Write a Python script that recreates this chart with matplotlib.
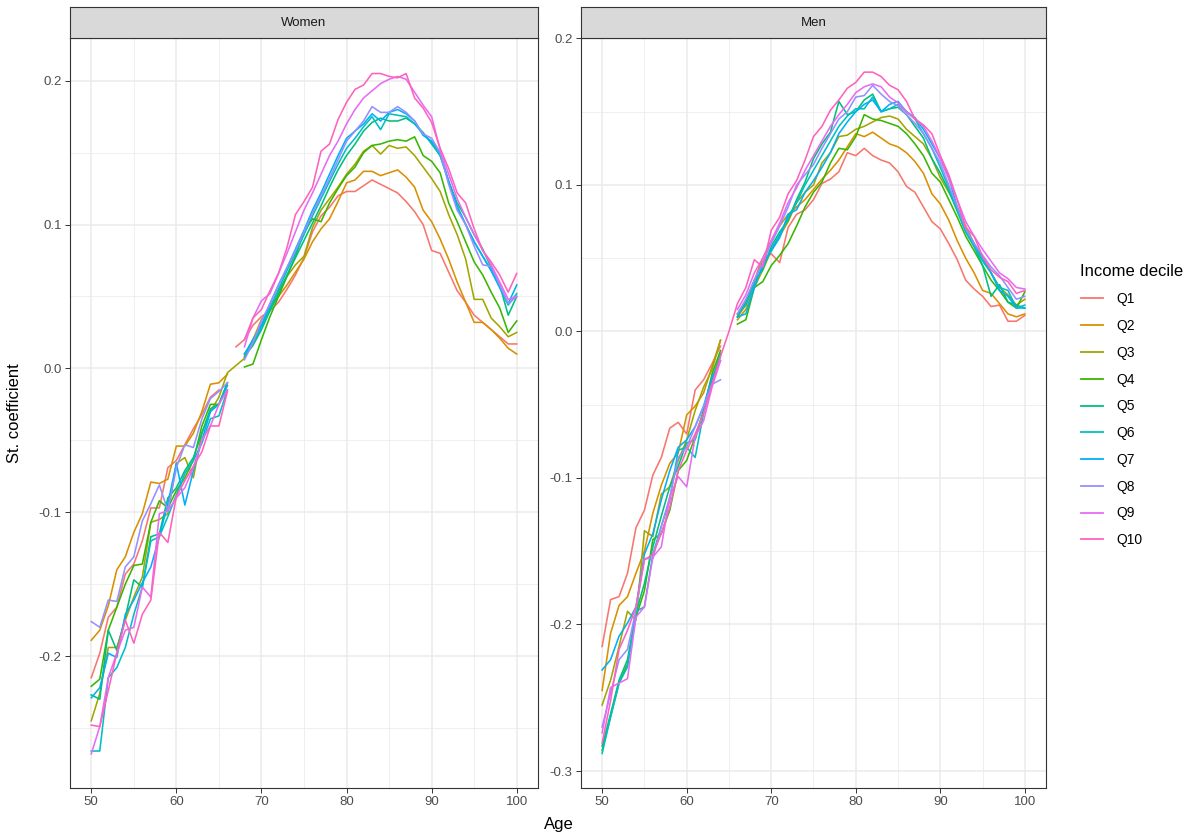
import numpy as np
import matplotlib
matplotlib.use("Agg")
import matplotlib.pyplot as plt
from matplotlib.lines import Line2D

plt.rcParams['font.family'] = ['Liberation Sans', 'DejaVu Sans']
plt.rcParams['axes.unicode_minus'] = False

nan = np.nan
ages = np.arange(50, 101)
deciles = ['Q1', 'Q2', 'Q3', 'Q4', 'Q5', 'Q6', 'Q7', 'Q8', 'Q9', 'Q10']
colors = ['#F8766D', '#D89000', '#A3A500', '#39B600', '#00BF7D',
          '#00BFC4', '#00B0F6', '#9590FF', '#E76BF3', '#FF62BC']

### Women, ages 50..100
w_q1 = [-0.215, -0.198, -0.173, -0.166, -0.143, -0.136, -0.120, -0.097, -0.097, -0.069,
        -0.064, -0.053, -0.042, -0.032, -0.020, -0.015, nan, 0.015, 0.020, 0.030,
        0.036, 0.040, 0.046, 0.055, 0.065, 0.077, 0.095, 0.106, 0.112, 0.120,
        0.123, 0.123, 0.127, 0.131, 0.128, 0.125, 0.122, 0.116, 0.109, 0.100,
        0.082, 0.080, 0.067, 0.054, 0.046, 0.037, 0.032, 0.027, 0.022, 0.017,
        0.017]
w_q2 = [-0.189, -0.182, -0.165, -0.140, -0.131, -0.114, -0.101, -0.079, -0.080, -0.077,
        -0.054, -0.054, -0.045, -0.030, -0.011, -0.010, -0.004, nan, 0.008, 0.020,
        0.034, 0.042, 0.050, 0.058, 0.067, 0.076, 0.088, 0.097, 0.104, 0.116,
        0.129, 0.131, 0.137, 0.137, 0.134, 0.136, 0.138, 0.133, 0.126, 0.110,
        0.102, 0.090, 0.076, 0.060, 0.046, 0.032, 0.032, 0.027, 0.021, 0.014,
        0.010]
w_q3 = [-0.245, -0.226, -0.194, -0.194, -0.175, -0.159, -0.145, -0.107, -0.105, -0.101,
        -0.066, -0.062, -0.076, -0.045, -0.030, -0.020, -0.003, 0.002, 0.007, 0.020,
        0.030, 0.042, 0.054, 0.064, 0.072, 0.078, 0.098, 0.110, 0.118, 0.126,
        0.135, 0.142, 0.151, 0.155, 0.149, 0.155, 0.153, 0.154, 0.148, 0.140,
        0.132, 0.123, 0.107, 0.093, 0.076, 0.048, 0.048, 0.035, 0.029, 0.022,
        0.025]
w_q4 = [-0.221, -0.216, -0.182, -0.166, -0.150, -0.137, -0.136, -0.107, -0.092, -0.097,
        -0.085, -0.076, -0.064, -0.040, -0.025, -0.025, -0.010, nan, 0.001, 0.003,
        0.020, 0.036, 0.050, 0.064, 0.078, 0.095, 0.104, 0.102, 0.115, 0.125,
        0.134, 0.140, 0.150, 0.155, 0.156, 0.158, 0.159, 0.158, 0.161, 0.148,
        0.144, 0.136, 0.115, 0.102, 0.088, 0.074, 0.065, 0.053, 0.042, 0.025,
        0.033]
w_q5 = [-0.227, -0.230, -0.182, -0.196, -0.173, -0.147, -0.152, -0.117, -0.115, -0.090,
        -0.083, -0.071, -0.062, -0.045, -0.028, -0.025, -0.010, nan, 0.008, 0.016,
        0.027, 0.040, 0.052, 0.065, 0.077, 0.089, 0.101, 0.113, 0.126, 0.138,
        0.148, 0.156, 0.165, 0.171, 0.174, 0.172, 0.172, 0.174, 0.170, 0.164,
        0.156, 0.148, 0.130, 0.115, 0.105, 0.093, 0.083, 0.070, 0.058, 0.037,
        0.050]
w_q6 = [-0.266, -0.266, -0.215, -0.208, -0.194, -0.171, -0.152, -0.120, -0.117, -0.103,
        -0.088, -0.073, -0.064, -0.052, -0.035, -0.033, -0.015, nan, 0.010, 0.018,
        0.028, 0.042, 0.055, 0.068, 0.080, 0.093, 0.106, 0.118, 0.130, 0.142,
        0.153, 0.160, 0.168, 0.175, 0.166, 0.177, 0.176, 0.175, 0.170, 0.163,
        0.157, 0.148, 0.130, 0.113, 0.100, 0.088, 0.078, 0.068, 0.056, 0.044,
        0.052]
w_q7 = [-0.229, -0.222, -0.198, -0.201, -0.171, -0.161, -0.149, -0.138, -0.117, -0.094,
        -0.066, -0.095, -0.071, -0.050, -0.030, -0.025, -0.012, nan, 0.010, 0.020,
        0.030, 0.045, 0.058, 0.070, 0.083, 0.096, 0.110, 0.122, 0.135, 0.148,
        0.160, 0.165, 0.170, 0.177, 0.172, 0.178, 0.180, 0.177, 0.172, 0.162,
        0.158, 0.150, 0.130, 0.112, 0.100, 0.088, 0.078, 0.068, 0.057, 0.045,
        0.058]
w_q8 = [-0.176, -0.180, -0.161, -0.162, -0.138, -0.131, -0.106, -0.094, -0.081, -0.099,
        -0.069, -0.053, -0.055, -0.035, -0.021, -0.016, -0.010, nan, 0.006, 0.018,
        0.033, 0.045, 0.058, 0.070, 0.082, 0.095, 0.108, 0.120, 0.132, 0.145,
        0.158, 0.165, 0.172, 0.182, 0.178, 0.178, 0.182, 0.178, 0.172, 0.163,
        0.160, 0.150, 0.128, 0.110, 0.100, 0.085, 0.072, 0.071, 0.058, 0.045,
        0.050]
w_q9 = [-0.268, -0.249, -0.215, -0.198, -0.182, -0.180, -0.152, -0.159, -0.101, -0.099,
        -0.090, -0.083, -0.069, -0.050, -0.040, -0.025, -0.015, nan, 0.015, 0.035,
        0.047, 0.052, 0.066, 0.080, 0.095, 0.110, 0.122, 0.135, 0.148, 0.158,
        0.170, 0.180, 0.188, 0.193, 0.198, 0.201, 0.203, 0.201, 0.192, 0.183,
        0.175, 0.152, 0.135, 0.118, 0.105, 0.093, 0.082, 0.072, 0.060, 0.048,
        0.050]
w_q10 = [-0.248, -0.249, -0.224, -0.198, -0.175, -0.191, -0.171, -0.161, -0.114, -0.121,
         -0.089, -0.078, -0.068, -0.058, -0.040, -0.040, -0.016, nan, 0.020, 0.035,
         0.041, 0.054, 0.066, 0.084, 0.107, 0.116, 0.126, 0.151, 0.156, 0.173,
         0.185, 0.194, 0.197, 0.205, 0.205, 0.203, 0.202, 0.205, 0.188, 0.181,
         0.171, 0.153, 0.139, 0.122, 0.115, 0.097, 0.082, 0.074, 0.065, 0.053,
         0.066]

### Men, ages 50..100
m_q1 = [-0.215, -0.183, -0.181, -0.165, -0.134, -0.122, -0.098, -0.086, -0.066, -0.062,
        -0.070, -0.040, -0.033, -0.022, -0.010, nan, 0.012, 0.020, 0.035, 0.050,
        0.053, 0.047, 0.071, 0.080, 0.083, 0.090, 0.101, 0.104, 0.109, 0.122,
        0.120, 0.125, 0.120, 0.117, 0.115, 0.109, 0.099, 0.095, 0.085, 0.075,
        0.070, 0.060, 0.049, 0.035, 0.029, 0.024, 0.017, 0.018, 0.007, 0.007,
        0.011]
m_q2 = [-0.245, -0.206, -0.187, -0.181, -0.165, -0.150, -0.124, -0.105, -0.090, -0.083,
        -0.057, -0.051, -0.042, -0.024, -0.006, nan, 0.010, 0.018, 0.034, 0.050,
        0.062, 0.072, 0.080, 0.085, 0.090, 0.097, 0.104, 0.110, 0.117, 0.126,
        0.135, 0.133, 0.136, 0.132, 0.128, 0.126, 0.122, 0.116, 0.108, 0.094,
        0.087, 0.076, 0.062, 0.050, 0.040, 0.028, 0.026, 0.019, 0.012, 0.010,
        0.012]
m_q3 = [-0.255, -0.238, -0.215, -0.191, -0.197, -0.136, -0.140, -0.111, -0.106, -0.088,
        -0.074, -0.054, -0.038, -0.026, -0.006, nan, 0.008, 0.015, 0.030, 0.042,
        0.055, 0.065, 0.075, 0.088, 0.095, 0.100, 0.115, 0.122, 0.133, 0.134,
        0.138, 0.140, 0.143, 0.146, 0.147, 0.145, 0.138, 0.133, 0.128, 0.118,
        0.105, 0.095, 0.085, 0.072, 0.060, 0.050, 0.040, 0.030, 0.025, 0.018,
        0.022]
m_q4 = [-0.286, -0.263, -0.240, -0.227, -0.195, -0.177, -0.142, -0.138, -0.122, -0.095,
        -0.088, -0.072, -0.054, -0.029, -0.013, nan, 0.005, 0.008, 0.030, 0.034,
        0.045, 0.052, 0.060, 0.072, 0.085, 0.095, 0.102, 0.115, 0.125, 0.124,
        0.133, 0.148, 0.145, 0.144, 0.142, 0.140, 0.135, 0.128, 0.120, 0.108,
        0.102, 0.090, 0.078, 0.065, 0.055, 0.045, 0.035, 0.028, 0.020, 0.016,
        0.027]
m_q5 = [-0.283, -0.261, -0.238, -0.224, -0.192, -0.172, -0.147, -0.126, -0.106, -0.092,
        -0.076, -0.074, -0.054, -0.033, -0.015, nan, 0.010, 0.020, 0.035, 0.042,
        0.058, 0.068, 0.076, 0.090, 0.102, 0.118, 0.128, 0.136, 0.157, 0.148,
        0.150, 0.158, 0.162, 0.150, 0.152, 0.153, 0.148, 0.140, 0.132, 0.118,
        0.108, 0.096, 0.082, 0.068, 0.058, 0.045, 0.024, 0.032, 0.020, 0.018,
        0.016]
m_q6 = [-0.288, -0.263, -0.240, -0.229, -0.191, -0.188, -0.152, -0.133, -0.115, -0.081,
        -0.079, -0.086, -0.056, -0.036, -0.017, nan, 0.012, 0.018, 0.032, 0.044,
        0.056, 0.066, 0.078, 0.088, 0.100, 0.110, 0.120, 0.130, 0.140, 0.147,
        0.152, 0.152, 0.160, 0.150, 0.152, 0.155, 0.150, 0.145, 0.135, 0.125,
        0.112, 0.098, 0.083, 0.068, 0.058, 0.048, 0.040, 0.030, 0.028, 0.016,
        0.018]
m_q7 = [-0.231, -0.224, -0.208, -0.199, -0.188, -0.152, -0.138, -0.115, -0.095, -0.079,
        -0.074, -0.065, -0.051, -0.031, -0.020, nan, 0.010, 0.012, 0.030, 0.046,
        0.055, 0.064, 0.080, 0.083, 0.095, 0.103, 0.112, 0.122, 0.135, 0.143,
        0.150, 0.155, 0.158, 0.150, 0.155, 0.157, 0.150, 0.146, 0.138, 0.128,
        0.118, 0.105, 0.085, 0.070, 0.060, 0.050, 0.040, 0.028, 0.024, 0.016,
        0.016]
m_q8 = [-0.270, -0.247, -0.224, -0.217, -0.190, -0.155, -0.155, -0.133, -0.113, -0.086,
        -0.079, -0.065, -0.051, -0.036, -0.033, nan, 0.012, 0.022, 0.035, 0.047,
        0.060, 0.072, 0.085, 0.100, 0.107, 0.114, 0.125, 0.135, 0.145, 0.150,
        0.160, 0.161, 0.168, 0.162, 0.157, 0.154, 0.148, 0.142, 0.135, 0.125,
        0.115, 0.100, 0.085, 0.070, 0.060, 0.052, 0.044, 0.038, 0.030, 0.022,
        0.024]
m_q9 = [-0.274, -0.243, -0.240, -0.237, -0.195, -0.188, -0.154, -0.147, -0.113, -0.099,
        -0.106, -0.072, -0.061, -0.038, -0.020, nan, 0.015, 0.025, 0.040, 0.050,
        0.062, 0.074, 0.088, 0.098, 0.110, 0.120, 0.130, 0.140, 0.148, 0.155,
        0.163, 0.167, 0.169, 0.167, 0.160, 0.156, 0.150, 0.145, 0.140, 0.130,
        0.118, 0.104, 0.090, 0.075, 0.065, 0.056, 0.048, 0.040, 0.036, 0.030,
        0.029]
m_q10 = [-0.281, -0.252, -0.217, -0.204, -0.188, -0.156, -0.152, -0.138, -0.120, -0.095,
         -0.081, -0.070, -0.056, -0.036, -0.017, 0.000, 0.019, 0.030, 0.049, 0.044,
         0.069, 0.078, 0.094, 0.103, 0.117, 0.133, 0.140, 0.151, 0.158, 0.166,
         0.170, 0.177, 0.177, 0.174, 0.168, 0.165, 0.157, 0.145, 0.141, 0.135,
         0.120, 0.107, 0.090, 0.071, 0.065, 0.051, 0.042, 0.037, 0.034, 0.026,
         0.028]

women = [w_q1, w_q2, w_q3, w_q4, w_q5, w_q6, w_q7, w_q8, w_q9, w_q10]
men = [m_q1, m_q2, m_q3, m_q4, m_q5, m_q6, m_q7, m_q8, m_q9, m_q10]

W, H = 1201, 839
fig = plt.figure(figsize=(W / 100, H / 100), dpi=100)

def px_box(left, right, top, bottom):
    return [left / W, 1 - bottom / H, (right - left) / W, (bottom - top) / H]

panels = [
    ('Women', women, (70, 538), (-0.2917, 0.2297), [-0.2, -0.1, 0.0, 0.1, 0.2]),
    ('Men', men, (581, 1046), (-0.3116, 0.2003), [-0.3, -0.2, -0.1, 0.0, 0.1, 0.2]),
]

for name, series, (l, r), ylim, yticks in panels:
    ax = fig.add_axes(px_box(l, r, 38, 788))
    for vals, col in zip(series, colors):
        ax.plot(ages, vals, color=col, lw=1.15, solid_joinstyle='round')
    ax.set_xlim(47.5, 102.5)
    ax.set_ylim(*ylim)
    ax.set_xticks([50, 60, 70, 80, 90, 100])
    ax.set_xticks([55, 65, 75, 85, 95], minor=True)
    ax.set_yticks(yticks)
    ax.set_yticklabels(['%.1f' % t for t in yticks])
    minor_y = [t + 0.05 for t in yticks] + [yticks[0] - 0.05]
    ax.set_yticks([t for t in minor_y if ylim[0] < t < ylim[1]], minor=True)
    ax.grid(which='major', color='#EBEBEB', lw=1.1)
    ax.grid(which='minor', color='#EBEBEB', lw=0.55)
    ax.set_axisbelow(True)
    ax.tick_params(which='major', length=3.5, width=0.7, color='#333333',
                   labelcolor='#4D4D4D', labelsize=9.5, pad=2.5)
    ax.tick_params(which='minor', length=0)
    for sp in ax.spines.values():
        sp.set_color('#333333')
        sp.set_linewidth(0.8)

    sax = fig.add_axes(px_box(l, r, 7, 38))
    sax.set_facecolor('#D9D9D9')
    sax.set_xticks([])
    sax.set_yticks([])
    for sp in sax.spines.values():
        sp.set_color('#333333')
        sp.set_linewidth(0.8)
    sax.text(0.5, 0.5, name, ha='center', va='center', fontsize=9.5,
             color='#1A1A1A', transform=sax.transAxes)

fig.text(15 / W, 1 - 413 / H, 'St. coefficient', rotation=90, ha='center',
         va='center', fontsize=12)
fig.text(559 / W, 1 - 825 / H, 'Age', ha='center', va='center', fontsize=12)

handles = [Line2D([0], [0], color=c, lw=1.3) for c in colors]
leg = fig.legend(handles, deciles, loc='upper left',
                 bbox_to_anchor=(1068 / W, 1 - 252 / H), frameon=False,
                 title='Income decile', title_fontsize=12, fontsize=10,
                 labelspacing=0.92, handlelength=1.6, handletextpad=1.0,
                 alignment='left')

fig.savefig('out.png', dpi=100)
